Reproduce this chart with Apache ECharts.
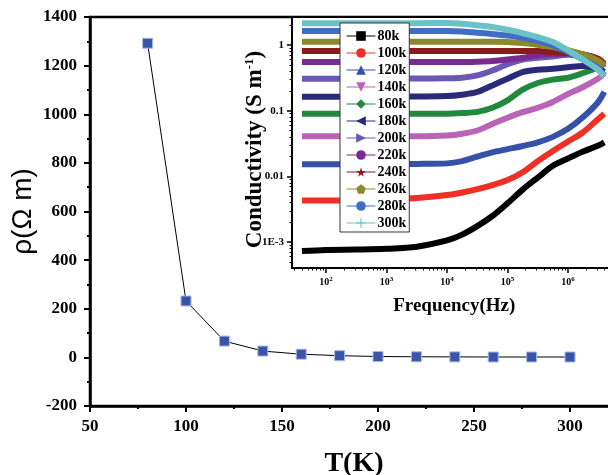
<!DOCTYPE html>
<html><head><meta charset="utf-8">
<script src="https://cdn.jsdelivr.net/npm/echarts@6/dist/echarts.min.js"></script>
<style>html,body{margin:0;padding:0;background:#fff}#c{width:608px;height:475px}</style>
</head><body><div id="c"></div><script>
// ---- main chart data ----
const tempK = [80, 100, 120, 140, 160, 180, 200, 220, 240, 260, 280, 300];
const resistivity = [1292, 232, 67, 26, 13, 7, 3.5, 2.5, 2, 1.5, 1.5, 1.5];

// ---- inset data (conductivity vs frequency) ----
const freqHz = [40, 100, 316, 1000, 3162, 10000, 17783, 31623, 56234, 100000, 177828, 316228, 562341, 1000000, 1778279, 3162278, 3981072];
const sigma80k  = [7.3e-4, 7.6e-4, 7.7e-4, 7.9e-4, 8.5e-4, 1.06e-3, 1.3e-3, 1.75e-3, 2.5e-3, 3.9e-3, 6.3e-3, 9.6e-3, 0.0145, 0.0188, 0.024, 0.0295, 0.033];
const sigma100k = [4.3e-3, 4.3e-3, 4.3e-3, 4.4e-3, 4.7e-3, 5.2e-3, 5.7e-3, 6.4e-3, 7.4e-3, 8.8e-3, 0.0116, 0.0171, 0.0244, 0.034, 0.047, 0.075, 0.09];
const sigma120k = [0.0153, 0.0153, 0.0153, 0.0154, 0.0155, 0.0158, 0.0171, 0.020, 0.0233, 0.026, 0.029, 0.033, 0.040, 0.053, 0.080, 0.136, 0.193];
const sigma140k = [0.041, 0.041, 0.041, 0.041, 0.041, 0.042, 0.0447, 0.050, 0.063, 0.078, 0.095, 0.111, 0.136, 0.18, 0.23, 0.31, 0.37];
const sigma160k = [0.09, 0.09, 0.09, 0.09, 0.09, 0.09, 0.092, 0.096, 0.111, 0.144, 0.209, 0.264, 0.297, 0.318, 0.375, 0.46, 0.52];
const sigma180k = [0.163, 0.163, 0.163, 0.164, 0.165, 0.167, 0.175, 0.193, 0.243, 0.307, 0.388, 0.42, 0.436, 0.46, 0.48, 0.436, 0.39];
const sigma200k = [0.307, 0.307, 0.307, 0.308, 0.309, 0.311, 0.318, 0.345, 0.41, 0.51, 0.60, 0.64, 0.67, 0.71, 0.70, 0.55, 0.46];
const sigma220k = [0.55, 0.55, 0.55, 0.55, 0.55, 0.55, 0.55, 0.557, 0.57, 0.60, 0.64, 0.70, 0.73, 0.74, 0.72, 0.60, 0.49];
const sigma240k = [0.81, 0.81, 0.81, 0.81, 0.81, 0.81, 0.81, 0.81, 0.81, 0.81, 0.81, 0.81, 0.78, 0.755, 0.72, 0.62, 0.52];
const sigma260k = [1.12, 1.12, 1.12, 1.12, 1.12, 1.12, 1.12, 1.12, 1.12, 1.11, 1.07, 1.01, 0.93, 0.83, 0.72, 0.58, 0.49];
const sigma280k = [1.63, 1.63, 1.63, 1.63, 1.63, 1.63, 1.60, 1.54, 1.47, 1.39, 1.29, 1.15, 0.99, 0.78, 0.60, 0.436, 0.345];
const sigma300k = [2.15, 2.15, 2.15, 2.15, 2.15, 2.16, 2.11, 2.0, 1.88, 1.71, 1.52, 1.32, 1.11, 0.83, 0.60, 0.42, 0.334];

const seriesNames = ['80k', '100k', '120k', '140k', '160k', '180k', '200k', '220k', '240k', '260k', '280k', '300k'];
const seriesValues = [sigma80k, sigma100k, sigma120k, sigma140k, sigma160k, sigma180k, sigma200k, sigma220k, sigma240k, sigma260k, sigma280k, sigma300k];
const yTickLabels = { '-3': '1E-3', '-2': '0.01', '-1': '0.1', '0': '1' };

// ---- styles ----
const SERIF = 'Liberation Serif';
const colors = ['#000000', '#ee3124', '#3652a8', '#b865b8', '#1f8a3e', '#2b2a78', '#6a58b4', '#7b2a92', '#8b1b1b', '#8a8a2c', '#3f6ec4', '#6ac2c8'];
const STAR = 'path://M50,0 L61,35 L98,35 L68,57 L79,91 L50,70 L21,91 L32,57 L2,35 L39,35 Z';
const PENTA = 'path://M50,0 L98,35 L79,91 L21,91 L2,35 Z';
const CROSS = 'path://M44,0 H56 V44 H100 V56 H56 V100 H44 V56 H0 V44 H44 Z';
const symbols = ['rect', 'circle', 'triangle', 'triangle', 'diamond', 'triangle', 'triangle', 'circle', STAR, PENTA, 'circle', CROSS];
const rotations = [0, 0, 0, 180, 0, 90, -90, 0, 0, 0, 0, 0];

// minor tick positions of the log axes
const fMin = 27.4, fMax = 1e7, sMin = 4.04e-4, sMax = 2.67;
const freqMinor = [], sigmaMinor = [];
for (let d = 1; d <= 6; d++) for (let k = 2; k <= 9; k++) { const v = k * Math.pow(10, d); if (v > fMin && v < fMax) freqMinor.push(v); }
for (let d = -4; d <= 0; d++) for (let k = 2; k <= 9; k++) { const v = k * Math.pow(10, d); if (v > sMin && v < sMax) sigmaMinor.push(v); }

const insetSeries = seriesNames.map((n, i) => ({
  type: 'line', name: n, xAxisIndex: 1, yAxisIndex: 1,
  data: freqHz.map((f, j) => [f, seriesValues[i][j]]),
  symbol: symbols[i], symbolRotate: rotations[i], symbolSize: 8, showSymbol: false,
  smooth: 0.3,
  lineStyle: { width: 6, color: colors[i] }, itemStyle: { color: colors[i] },
  z: 3
}));

const chart = echarts.init(document.getElementById('c'));
chart.setOption({
  animation: false,
  backgroundColor: '#fff',
  grid: [
    { left: 90, top: 17, width: 528, height: 389, show: true, borderColor: '#000', borderWidth: 2.5, containLabel: false, outerBoundsMode: 'none' },
    { left: 292, top: 17, width: 336.5, height: 251, show: true, borderColor: '#000', borderWidth: 2, backgroundColor: '#fff', containLabel: false, outerBoundsMode: 'none' }
  ],
  xAxis: [
    {
      gridIndex: 0, type: 'value', min: 50, max: 325, interval: 50, position: 'bottom',
      axisLine: { onZero: false, lineStyle: { color: '#000', width: 2.5 } },
      axisTick: { length: 6, lineStyle: { color: '#000', width: 2 } },
      minorTick: { show: true, splitNumber: 2, length: 3, lineStyle: { color: '#000', width: 2 } },
      splitLine: { show: false },
      axisLabel: { fontFamily: SERIF, fontWeight: 'bold', fontSize: 17, color: '#000', margin: 12, showMaxLabel: false, formatter: v => String(v) },
      name: 'T(K)', nameLocation: 'middle', nameGap: 44,
      nameTextStyle: { fontFamily: SERIF, fontWeight: 'bold', fontSize: 28, color: '#000' }
    },
    {
      gridIndex: 1, type: 'log', logBase: 10, min: fMin, max: fMax, position: 'bottom',
      axisLine: { onZero: false, lineStyle: { color: '#000', width: 2 } },
      axisTick: { length: 5, lineStyle: { color: '#000', width: 1.5 } },
      splitLine: { show: false },
      axisLabel: {
        showMinLabel: false, showMaxLabel: false, margin: 8, color: '#000',
        formatter: v => '{b|10}{s|' + Math.round(Math.log10(v)) + '}',
        rich: {
          b: { fontFamily: SERIF, fontWeight: 'bold', fontSize: 10, color: '#000' },
          s: { fontFamily: SERIF, fontWeight: 'bold', fontSize: 7, color: '#000', verticalAlign: 'bottom', padding: [0, 0, 6, 0] }
        }
      },
      name: 'Frequency(Hz)', nameLocation: 'middle', nameGap: 29, nameMoveOverlap: false,
      nameTextStyle: { fontFamily: SERIF, fontWeight: 'bold', fontSize: 19, color: '#000', padding: [0, 12, 0, 0] }
    },
    {
      gridIndex: 1, type: 'log', logBase: 10, min: fMin, max: fMax, position: 'bottom',
      axisLine: { show: false, onZero: false }, axisLabel: { show: false }, splitLine: { show: false },
      axisTick: { length: 2.5, customValues: freqMinor, lineStyle: { color: '#000', width: 1 } }
    }
  ],
  yAxis: [
    {
      gridIndex: 0, type: 'value', min: -200, max: 1400, interval: 200, position: 'left',
      axisLine: { onZero: false, lineStyle: { color: '#000', width: 2.5 } },
      axisTick: { length: 6, lineStyle: { color: '#000', width: 2 } },
      minorTick: { show: true, splitNumber: 2, length: 3, lineStyle: { color: '#000', width: 2 } },
      splitLine: { show: false },
      axisLabel: { fontFamily: SERIF, fontWeight: 'bold', fontSize: 17, color: '#000', margin: 13, formatter: v => String(v) },
      name: 'ρ(Ω m)', nameLocation: 'middle', nameGap: 53, nameMoveOverlap: false,
      nameTextStyle: { fontFamily: 'Liberation Sans', fontSize: 28, color: '#000' }
    },
    {
      gridIndex: 1, type: 'log', logBase: 10, min: sMin, max: sMax, position: 'left',
      axisLine: { onZero: false, lineStyle: { color: '#000', width: 2 } },
      axisTick: { length: 5, lineStyle: { color: '#000', width: 1.5 } },
      splitLine: { show: false },
      axisLabel: {
        showMinLabel: false, showMaxLabel: false, margin: 8,
        fontFamily: SERIF, fontWeight: 'bold', fontSize: 11, color: '#000',
        formatter: v => yTickLabels[String(Math.round(Math.log10(v)))] || ''
      },
      name: 'Conductivity (S m{sup|-1})', nameLocation: 'middle', nameGap: 25, nameMoveOverlap: false,
      nameTextStyle: {
        fontFamily: SERIF, fontWeight: 'bold', fontSize: 23, color: '#000', padding: [0, 14, 0, 0],
        rich: { sup: { fontFamily: SERIF, fontWeight: 'bold', fontSize: 13, color: '#000', verticalAlign: 'bottom', padding: [0, 0, 11, 0] } }
      }
    },
    {
      gridIndex: 1, type: 'log', logBase: 10, min: sMin, max: sMax, position: 'left',
      axisLine: { show: false, onZero: false }, axisLabel: { show: false }, splitLine: { show: false },
      axisTick: { length: 2.5, customValues: sigmaMinor, lineStyle: { color: '#000', width: 1 } }
    }
  ],
  legend: {
    orient: 'vertical', left: 340, top: 23, padding: [6, 3, 2, 6], itemGap: 3,
    itemWidth: 29, itemHeight: 12, backgroundColor: '#fff', borderColor: '#333', borderWidth: 1,
    selectedMode: false, lineStyle: { width: 1 },
    textStyle: { fontFamily: SERIF, fontWeight: 'bold', fontSize: 14, color: '#000', lineHeight: 12, padding: [0, 0, 0, -3] },
    data: seriesNames, z: 10
  },
  series: [
    {
      type: 'line', name: 'rho', xAxisIndex: 0, yAxisIndex: 0,
      data: tempK.map((t, i) => [t, resistivity[i]]),
      symbol: 'rect', symbolSize: 10,
      lineStyle: { color: '#000', width: 1 },
      itemStyle: { color: '#3a55a8', borderColor: '#a8b8e8', borderWidth: 1 },
      z: 3
    }
  ].concat(insetSeries)
});
</script></body></html>
